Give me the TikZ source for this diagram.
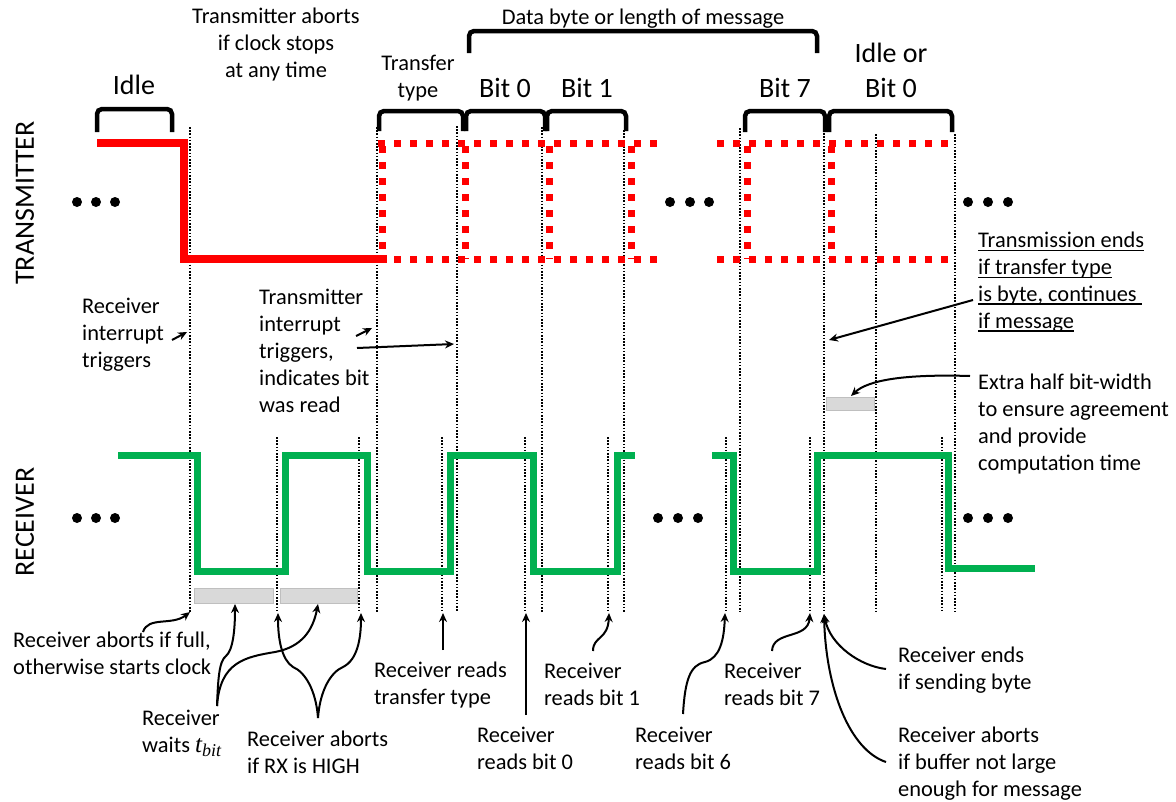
\documentclass[tikz,border=0pt]{standalone}
\usepackage{fontspec}
\setmainfont{Carlito}
\newfontfamily\symfont{Liberation Serif}
\usetikzlibrary{arrows.meta}
\definecolor{txred}{HTML}{FF0000}
\definecolor{rxgreen}{HTML}{00B050}
\definecolor{gapfill}{HTML}{D9D9D9}
\definecolor{gapedge}{HTML}{BFBFBF}
% underline drawn just under the baseline
\newcommand{\ulx}[1]{\setbox0\hbox{#1}\rlap{\rule[-3.5pt]{\wd0}{1.3pt}}\box0}
% italic symbol with a lowered italic index, e.g. t_bit
\newcommand{\symsub}[2]{{\symfont\itshape\fontsize{25}{25}\selectfont #1}\raisebox{-4.5pt}{\symfont\itshape\fontsize{18}{18}\selectfont #2}}
\begin{document}
% multi-line labels are placed by the baseline of their last line
\begin{tikzpicture}[x=1pt,y=-1pt,
  body/.style={font=\fontsize{22.4}{26.8}\selectfont, inner sep=0pt, align=left, anchor=base west},
  ctext/.style={font=\fontsize{22.4}{26.8}\selectfont, inner sep=0pt, align=center, anchor=base},
  big/.style={font=\fontsize{28}{35}\selectfont, inner sep=0pt, align=center, anchor=base},
  lane/.style={font=\fontsize{28}{34}\selectfont, inner sep=0pt, rotate=90},
  txline/.style={color=txred, line width=8pt},
  txdash/.style={color=txred, line width=7pt, dash pattern=on 7pt off 9pt},
  rxline/.style={color=rxgreen, line width=7pt},
  guide/.style={line width=1.6pt, dash pattern=on 1.6pt off 1.6pt},
  brace/.style={line width=4.5pt, rounded corners=5pt},
  note/.style={line width=2pt, -{Stealth[length=9pt,width=8pt]}},
  gap/.style={fill=gapfill, draw=gapedge, line width=1pt},
  dot/.style={fill=black},
]
\fill[white] (0,0) rectangle (1176,801);
\useasboundingbox (0,0) rectangle (1176,801);

% ---------- lane titles ----------
\node[lane] (txlabel) at (25,203) {TRANSMITTER};
\node[lane] (rxlabel) at (25,522) {RECEIVER};

% ---------- vertical timing guides ----------
\foreach \x/\t in {190/127,377/127,457/126,542/127,624/130,740/128,824/133,876/134,955/134}
  \draw[guide] (\x,\t) -- (\x,612);
\foreach \x in {277,359,442,525,608,726,810,942}
  \draw[guide] (\x,437) -- (\x,612);

% ---------- transmitter line ----------
\draw[txline] (97,143) -- (184,143) -- (184,259) -- (387,259);
\draw[txdash] (378,143) -- (658,143);
\draw[txdash] (378,259) -- (658,259);
\draw[txdash] (717,143) -- (955,143);
\draw[txdash] (717,259) -- (955,259);
\foreach \x in {382,465,549,631,747,831}
  \draw[txdash] (\x,146) -- (\x,259);

% ---------- receiver line ----------
\draw[rxline] (118,455) -- (197,455) -- (197,571) -- (285,571) -- (285,455)
  -- (367,455) -- (367,571) -- (450,571) -- (450,455) -- (533,455) -- (533,571)
  -- (617,571) -- (617,455) -- (635,455);
\draw[rxline] (712,455) -- (733,455) -- (733,571) -- (817,571) -- (817,455)
  -- (948,455) -- (948,568) -- (1035,568);

% ---------- timing gaps ----------
\draw[gap] (194,588) rectangle (273,603);
\draw[gap] (280,588) rectangle (357,603);
\draw[gap] (826,397) rectangle (874,410);

% ---------- ellipses ----------
\foreach \y in {202,518}{
  \foreach \x in {77,96,115,968,988,1008}
    \fill[dot] (\x,\y) circle (5pt);
}
\foreach \x in {670,690,709} \fill[dot] (\x,202) circle (5pt);
\foreach \x in {658,678,698} \fill[dot] (\x,518) circle (5pt);

% ---------- braces ----------
\draw[brace] (97,132) -- (97,109) -- (172,109) -- (172,132);
\draw[brace] (379,131) -- (379,111) -- (463,111) -- (463,131);
\draw[brace] (466,131) -- (466,111) -- (545,111) -- (545,131);
\draw[brace] (547,131) -- (547,111) -- (626,111) -- (626,131);
\draw[brace] (745,132) -- (745,111) -- (825,111) -- (825,132);
\draw[brace] (829,132) -- (829,111) -- (952,111) -- (952,132);
\draw[brace] (469,53) -- (469,31) -- (817,31) -- (817,53);

% ---------- headings ----------
\node[big] (idle) at (134,94) {Idle};
\node[ctext] (abort) at (276,77) {Transmitter aborts\\if clock stops\\at any time};
\node[ctext] (data) at (643,24) {Data byte or length of message};
\node[ctext] (ttype) at (418,97) {Transfer\\type};
\node[big] (bit0) at (505,97) {Bit 0};
\node[big] (bit1) at (587,97) {Bit 1};
\node[big] (bit7) at (785,97) {Bit 7};
\node[big] (idlebit) at (891,97) {Idle or\\Bit 0};

% ---------- notes ----------
\node[body] (rxint) at (82,367) {Receiver\\interrupt\\triggers};
\node[body] (txint) at (259,412) {Transmitter\\interrupt\\triggers,\\indicates bit\\was read};
\node[body] (txend) at (978,328) {\ulx{Transmission ends}\\\ulx{if transfer type}\\\ulx{is byte, continues\ }\\\ulx{if message}};
\node[body] (extra) at (978,470) {Extra half bit-width\\to ensure agreement\\and provide\\computation time};
\node[body] (full) at (13,674) {Receiver aborts if full,\\otherwise starts clock};
\node[body] (waits) at (142,752) {Receiver\\waits \symsub{t}{bit}};
\node[body] (rxhigh) at (247,773) {Receiver aborts\\if RX is HIGH};
\node[body] (rtype) at (374,704) {Receiver reads\\transfer type};
\node[body] (rb0) at (477,769) {Receiver\\reads bit 0};
\node[body] (rb1) at (544,705) {Receiver\\reads bit 1};
\node[body] (rb6) at (635,769) {Receiver\\reads bit 6};
\node[body] (rb7) at (724,705) {Receiver\\reads bit 7};
\node[body] (rend) at (898,689) {Receiver ends\\if sending byte};
\node[body] (rbuf) at (898,796) {Receiver aborts\\if buffer not large\\enough for message};

% ---------- arrow end points ----------
\coordinate (rxintS) at (172,340);  \coordinate (rxintE) at (187,332);
\coordinate (txintS) at (356,336);  \coordinate (txintE) at (372,328);
\coordinate (txlongS) at (357,348); \coordinate (txlongE) at (454,344);
\coordinate (txendS) at (973,300);  \coordinate (txendE) at (829,340);
\coordinate (extraS) at (970,376);  \coordinate (extraE) at (851,396);
\coordinate (fullS) at (143,632);   \coordinate (fullE) at (190,612);
\coordinate (waitsS) at (217,706);
\coordinate (gapA) at (235,604);    \coordinate (gapB) at (318,604);
\coordinate (highS) at (318,718);
\coordinate (g277) at (278,613);    \coordinate (g359) at (361,613);
\coordinate (typeS) at (443,650);   \coordinate (g442) at (443,613);
\coordinate (b0S) at (526,715);     \coordinate (g525) at (526,613);
\coordinate (b1S) at (593,651);     \coordinate (g608) at (609,613);
\coordinate (b6S) at (683,714);     \coordinate (g726) at (725,613);
\coordinate (b7S) at (772,651);     \coordinate (g810) at (810,613);
\coordinate (endS) at (886,669);    \coordinate (g824) at (824,614);
\coordinate (bufS) at (886,762);

% ---------- arrows ----------
\draw[note] (rxintS) -- (rxintE);
\draw[note] (txintS) -- (txintE);
\draw[note] (txlongS) -- (txlongE);
\draw[note] (txendS) -- (txendE);
\draw[note] (extraS) .. controls (905,374) and (868,380) .. (extraE);
\draw[note] (fullS) .. controls (148,616) and (172,626) .. (fullE);
\draw[note] (waitsS) .. controls (218,680) and (219,661) .. (226,656)
  .. controls (233,650) and (235,630) .. (gapA);
\draw[note] (waitsS) .. controls (220,662) and (245,657) .. (275,652)
  .. controls (302,647) and (313,630) .. (gapB);
\draw[note] (highS) .. controls (316,690) and (305,672) .. (293,667)
  .. controls (282,660) and (278,640) .. (g277);
\draw[note] (highS) .. controls (320,690) and (331,672) .. (343,667)
  .. controls (357,660) and (361,640) .. (g359);
\draw[note] (typeS) -- (g442);
\draw[note] (b0S) -- (g525);
\draw[note] (b1S) .. controls (593,636) and (608,640) .. (g608);
\draw[note] (b6S) .. controls (685,680) and (690,665) .. (705,662)
  .. controls (720,658) and (724,640) .. (g726);
\draw[note] (b7S) .. controls (773,630) and (808,640) .. (g810);
\draw[note] (endS) .. controls (860,666) and (830,645) .. (g824);
\draw[note] (bufS) .. controls (850,750) and (826,690) .. (g824);
\end{tikzpicture}
\end{document}
